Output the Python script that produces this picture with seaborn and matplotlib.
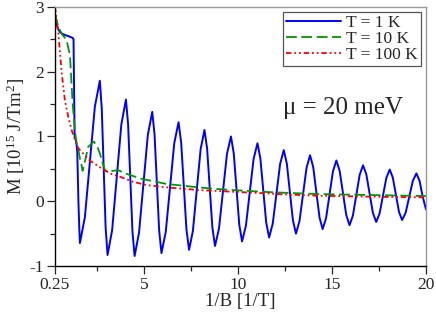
import numpy as np
import pandas as pd
import matplotlib
matplotlib.use("Agg")
import matplotlib.pyplot as plt
import seaborn as sns

# T = 1 K (extrema plus in-between points)
x_1K = [0.25, 0.33, 0.41, 0.55, 0.75, 1.0, 1.2, 1.24, 1.27, 1.30, 1.35, 1.40, 1.44, 1.50, 1.55, 1.58,
        1.845, 2.11, 2.375, 2.64, 2.7425, 2.845, 2.9475, 3.05,
        3.295, 3.54, 3.785, 4.03, 4.145, 4.26, 4.375, 4.49,
        4.725, 4.96, 5.195, 5.43, 5.5525, 5.675, 5.7975, 5.92,
        6.1475, 6.375, 6.6025, 6.83, 6.97, 7.11, 7.25, 7.39,
        7.595, 7.80, 8.005, 8.21, 8.35, 8.49, 8.63, 8.77,
        8.9825, 9.195, 9.4075, 9.62, 9.7675, 9.915, 10.0625, 10.21,
        10.415, 10.62, 10.825, 11.03, 11.185, 11.34, 11.495, 11.65,
        11.845, 12.04, 12.235, 12.43, 12.5925, 12.755, 12.9175, 13.08,
        13.2675, 13.455, 13.6425, 13.83, 13.9975, 14.165, 14.3325, 14.50,
        14.6825, 14.865, 15.0475, 15.23, 15.405, 15.58, 15.755, 15.93,
        16.11, 16.29, 16.47, 16.65, 16.825, 17.0, 17.175, 17.35,
        17.53, 17.71, 17.89, 18.07, 18.235, 18.40, 18.565, 18.73,
        18.92, 19.11, 19.30, 19.49, 19.655, 19.82, 20.0]
M_1K = [2.90, 2.74, 2.66, 2.60, 2.57, 2.545, 2.52, 2.50, 1.70, 1.00, 0.95, 0.88, 0.75, 0.0, -0.45, -0.645,
        -0.244, 0.608, 1.459, 1.86, 1.430, 0.515, -0.400, -0.83,
        -0.446, 0.37, 1.186, 1.57, 1.184, 0.363, -0.459, -0.845,
        -0.489, 0.268, 1.024, 1.38, 1.031, 0.29, -0.451, -0.80,
        -0.477, 0.21, 0.897, 1.22, 0.905, 0.235, -0.435, -0.75,
        -0.454, 0.175, 0.804, 1.10, 0.814, 0.205, -0.404, -0.69,
        -0.42, 0.155, 0.73, 1.00, 0.741, 0.19, -0.361, -0.62,
        -0.378, 0.138, 0.653, 0.895, 0.662, 0.168, -0.327, -0.56,
        -0.344, 0.115, 0.574, 0.79, 0.584, 0.145, -0.294, -0.50,
        -0.306, 0.105, 0.516, 0.71, 0.528, 0.14, -0.248, -0.43,
        -0.26, 0.10, 0.46, 0.63, 0.47, 0.13, -0.21, -0.37,
        -0.222, 0.093, 0.407, 0.555, 0.415, 0.118, -0.18, -0.32,
        -0.19, 0.085, 0.36, 0.49, 0.365, 0.10, -0.165, -0.29,
        -0.175, 0.07, 0.315, 0.43, 0.318, 0.08, -0.125]

# T = 10 K
x_10K = [0.25, 0.41, 0.52, 0.62, 0.87, 1.05, 1.19, 1.31, 1.40, 1.49, 1.58, 1.67, 1.72, 1.85,
         2.02, 2.32, 2.5, 2.64, 2.8, 2.91, 3.09, 3.35, 3.62, 3.9, 4.24, 4.95, 5.13, 6.19, 7.07,
         7.87, 8.85, 9.65, 10.62, 11.51, 12.39, 14.17, 16.12, 18.07, 20.0]
M_10K = [2.88, 2.72, 2.64, 2.58, 2.49, 2.25, 1.52, 1.10, 0.90, 0.80, 0.66, 0.55, 0.47, 0.62,
         0.84, 0.92, 0.85, 0.74, 0.58, 0.48, 0.46, 0.47, 0.48, 0.44, 0.405, 0.34, 0.33, 0.267, 0.24,
         0.215, 0.19, 0.174, 0.158, 0.143, 0.132, 0.112, 0.101, 0.091, 0.08]

# T = 100 K
x_100K = [0.25, 0.34, 0.43, 0.52, 0.61, 0.78, 0.96, 1.14, 1.31, 1.49, 1.58, 2.1, 2.64, 3.17,
          3.7, 4.41, 5.13, 6.19, 7.86, 9.65, 11.51, 12.39, 14.17, 16.12, 18.07, 20.0]
M_100K = [3.0, 2.8, 2.6, 2.29, 1.98, 1.56, 1.3, 1.1, 0.95, 0.82, 0.79, 0.63, 0.525, 0.43,
          0.38, 0.30, 0.25, 0.215, 0.174, 0.148, 0.122, 0.107, 0.086, 0.076, 0.066, 0.06]

labels = ["T = 1 K", "T = 10 K", "T = 100 K"]

sns.set_style("ticks")
plt.rcParams["font.family"] = ["Liberation Serif", "DejaVu Serif"]
plt.rcParams["mathtext.fontset"] = "custom"
plt.rcParams["mathtext.rm"] = "Liberation Serif"
plt.rcParams["mathtext.default"] = "regular"
plt.rcParams["axes.unicode_minus"] = False

fig = plt.figure(figsize=(4.36, 3.13), dpi=100)
ax = fig.add_axes([0.126, 0.150, 0.851, 0.828])

sns.lineplot(x=x_1K, y=M_1K, ax=ax, color="#0000ff", lw=1.4, label=labels[0],
             sort=False, estimator=None)
sns.lineplot(x=x_10K, y=M_10K, ax=ax, color="#009900", lw=1.3, label=labels[1],
             sort=False, estimator=None, linestyle=(0, (6, 2.5)))
sns.lineplot(x=x_100K, y=M_100K, ax=ax, color="#ff0000", lw=1.3, label=labels[2],
             sort=False, estimator=None, linestyle=(0, (3, 1.6, 1, 1.6, 1, 1.6)))

ax.set_xlim(0.25, 20)
ax.set_ylim(-1, 3)
ax.set_xticks([0.25, 5, 10, 15, 20])
ax.set_xticklabels(["0.25", "5", "10", "15", "20"])
ax.set_xticks([2.5, 7.5, 12.5, 17.5], minor=True)
ax.set_yticks([-1, 0, 1, 2, 3])
ax.set_yticks([-0.5, 0.5, 1.5, 2.5], minor=True)
ax.tick_params(which="major", length=6, width=0.9, labelsize=12.5, pad=2)
ax.tick_params(which="minor", length=3.5, width=0.9)

for side in ["top", "right"]:
    ax.spines[side].set_color("#999999")
for side in ["left", "bottom"]:
    ax.spines[side].set_color("black")
for sp in ax.spines.values():
    sp.set_linewidth(1.0)

ax.set_xlabel("1/B [1/T]", fontsize=13.5, labelpad=0)
ax.set_ylabel("M [10$^{15}$ J/Tm$^{2}$]", fontsize=13.5, labelpad=2)

ax.text(15.6, 1.44, "μ = 20 meV", fontsize=18, ha="center", va="center")

leg = ax.legend(loc="upper right", fontsize=12.5, frameon=True, fancybox=False,
                edgecolor="#555555", framealpha=1, borderaxespad=0.3,
                handlelength=3.2, handletextpad=0.3, labelspacing=0.0,
                borderpad=0.15)
leg.get_frame().set_linewidth(0.9)

fig.savefig("out.png", dpi=100)
